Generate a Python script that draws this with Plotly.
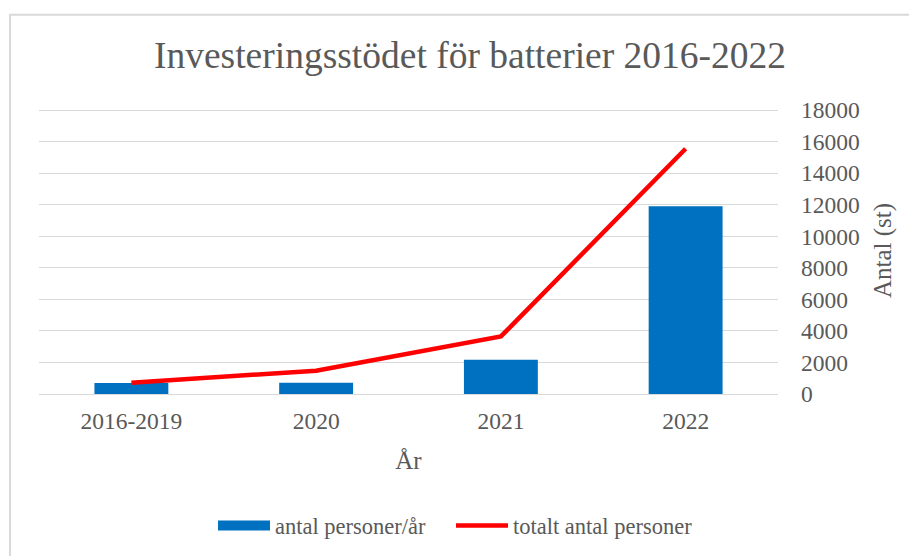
import plotly.graph_objects as go

categories = ["2016-2019", "2020", "2021", "2022"]
per_year = [700, 720, 2170, 11900]
cumulative = [720, 1480, 3650, 15550]
y_ticks = [0, 2000, 4000, 6000, 8000, 10000, 12000, 14000, 16000, 18000]
y_tick_labels = [str(v) for v in y_ticks]
y_max = 18200

# page body has an 8px margin, so figure coords = screen coords - 8
OFF = 8
W, H = 909, 548
PLOT_H = 284 * y_max / 18000
L, R, B = 31, 139, 162
T = H - B - PLOT_H
pw, ph = W - L - R, PLOT_H

def px(xs):
    return (xs - OFF - L) / pw

def py(ys):
    return (H - B - (ys - OFF)) / ph

FONT = "Liberation Serif"
GRAY = "#595959"
BLUE = "#0070C0"
RED = "#FF0000"

fig = go.Figure()
fig.add_trace(go.Bar(x=categories, y=per_year, name="antal personer/år",
                     marker=dict(color=BLUE, line=dict(width=0)), showlegend=False))
# legend entry for the bars (wide swatch like the original)
fig.add_trace(go.Scatter(x=[None], y=[None], name="antal personer/år", mode="lines",
                         line=dict(color=BLUE, width=12), legend="legend"))
fig.add_trace(go.Scatter(x=categories, y=cumulative, name="totalt antal personer",
                         mode="lines", line=dict(color=RED, width=4.5), legend="legend2"))

legend_common = dict(orientation="h", xanchor="left", y=py(526), yanchor="middle",
                     font=dict(size=22.5, color=GRAY, family=FONT), itemwidth=52,
                     bgcolor="rgba(0,0,0,0)")

fig.update_layout(
    width=W, height=H,
    margin=dict(l=L, r=R, t=T, b=B, autoexpand=False),
    paper_bgcolor="white", plot_bgcolor="white",
    font=dict(family=FONT, color=GRAY, size=22),
    title=dict(text="Investeringsstödet för batterier 2016-2022",
               font=dict(size=37.5, color=GRAY, family=FONT),
               x=(470 - OFF) / W, xanchor="center", y=1 - (55 - OFF) / H, yanchor="middle"),
    bargap=0.6,
    showlegend=True,
    legend=dict(x=px(213), **legend_common),
    legend2=dict(x=px(451), **legend_common),
    xaxis=dict(title=dict(text="År", font=dict(size=25, color=GRAY, family=FONT), standoff=18),
               showgrid=False, showline=False, ticks="", ticklabelstandoff=10,
               automargin=False, tickfont=dict(size=23.5, color=GRAY, family=FONT)),
    yaxis=dict(side="right", range=[0, y_max], tickvals=y_ticks, ticktext=y_tick_labels,
               showgrid=True, gridcolor="#D9D9D9", gridwidth=1.3,
               zeroline=True, zerolinecolor="#D9D9D9", zerolinewidth=1.3,
               ticks="", ticklabelstandoff=22, automargin=False,
               tickfont=dict(size=23.5, color=GRAY, family=FONT),
               title=dict(text="Antal (st)", font=dict(size=25, color=GRAY, family=FONT), standoff=14)),
    shapes=[dict(type="rect", xref="paper", yref="paper",
                 x0=px(10), x1=px(940), y0=py(14.5), y1=py(580),
                 line=dict(color="#D9D9D9", width=2), layer="below")],
)

fig.write_html("out.html")
